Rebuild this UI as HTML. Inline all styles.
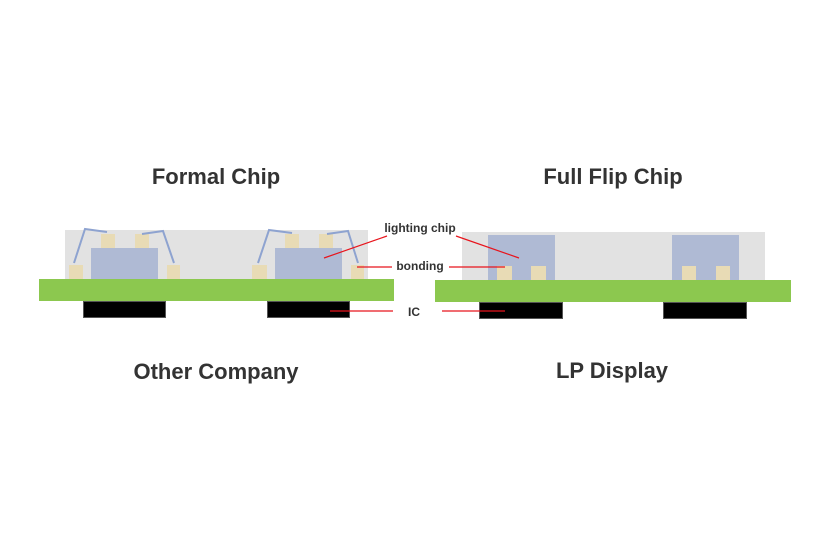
<!DOCTYPE html>
<html><head><meta charset="utf-8"><style>
html,body{margin:0;padding:0;background:#fff;}
svg{display:block}
</style></head><body>
<svg width="830" height="548" viewBox="0 0 830 548" xmlns="http://www.w3.org/2000/svg">
<g font-family="Liberation Sans, sans-serif" font-weight="bold" fill="#333" text-anchor="middle">
<text x="216" y="184" font-size="22">Formal Chip</text>
<text x="613" y="184" font-size="22">Full Flip Chip</text>
<text x="216" y="379" font-size="22">Other Company</text>
<text x="612" y="378" font-size="22">LP Display</text>
<text x="420" y="232" font-size="12">lighting chip</text>
<text x="420" y="270" font-size="12">bonding</text>
<text x="414" y="316" font-size="12">IC</text>
</g>
<!-- left -->
<rect x="65" y="230" width="303" height="49" fill="#e2e2e2"/>
<rect x="39" y="279" width="355" height="22" fill="#8cc84f"/>
<rect x="83.5" y="301.5" width="82" height="16" fill="#000" stroke="#555" stroke-width="1"/>
<rect x="267.5" y="301.5" width="82" height="16" fill="#000" stroke="#555" stroke-width="1"/>
<g fill="#afbad4">
<rect x="91" y="248" width="67" height="31"/>
<rect x="275" y="248" width="67" height="31"/>
</g>
<g fill="#e8dbb5">
<rect x="101" y="234" width="14" height="14"/><rect x="135" y="234" width="14" height="14"/>
<rect x="69" y="265" width="14" height="14"/><rect x="167" y="265" width="13" height="14"/>
<rect x="285" y="234" width="14" height="14"/><rect x="319" y="234" width="14" height="14"/>
<rect x="252" y="265" width="15" height="14"/><rect x="351" y="265" width="13" height="14"/>
</g>
<g stroke="#8ea3d0" stroke-width="2" fill="none">
<polyline points="74,263 85,229 107,232"/>
<polyline points="142,234 163,231 174,263"/>
<polyline points="258,263 269,230 292,233"/>
<polyline points="327,234 348,231 358,263"/>
</g>
<!-- right -->
<rect x="462" y="232" width="303" height="48" fill="#e2e2e2"/>
<rect x="435" y="280" width="356" height="22" fill="#8cc84f"/>
<rect x="479.5" y="302.5" width="83" height="16" fill="#000" stroke="#555" stroke-width="1"/>
<rect x="663.5" y="302.5" width="83" height="16" fill="#000" stroke="#555" stroke-width="1"/>
<g fill="#afbad4">
<rect x="488" y="235" width="67" height="45"/>
<rect x="672" y="235" width="67" height="45"/>
</g>
<g fill="#e8dbb5">
<rect x="497" y="266" width="15" height="14"/><rect x="531" y="266" width="15" height="14"/>
<rect x="682" y="266" width="14" height="14"/><rect x="716" y="266" width="14" height="14"/>
</g>
<!-- leaders -->
<g stroke="#e8141c" stroke-width="1.2">
<line x1="324" y1="258" x2="387" y2="236"/>
<line x1="456" y1="236" x2="519" y2="258"/>
<line x1="357" y1="267" x2="392" y2="267"/>
<line x1="449" y1="267" x2="505" y2="267"/>
<line x1="330" y1="311" x2="393" y2="311"/>
<line x1="442" y1="311" x2="505" y2="311"/>
</g>
</svg>
</body></html>
